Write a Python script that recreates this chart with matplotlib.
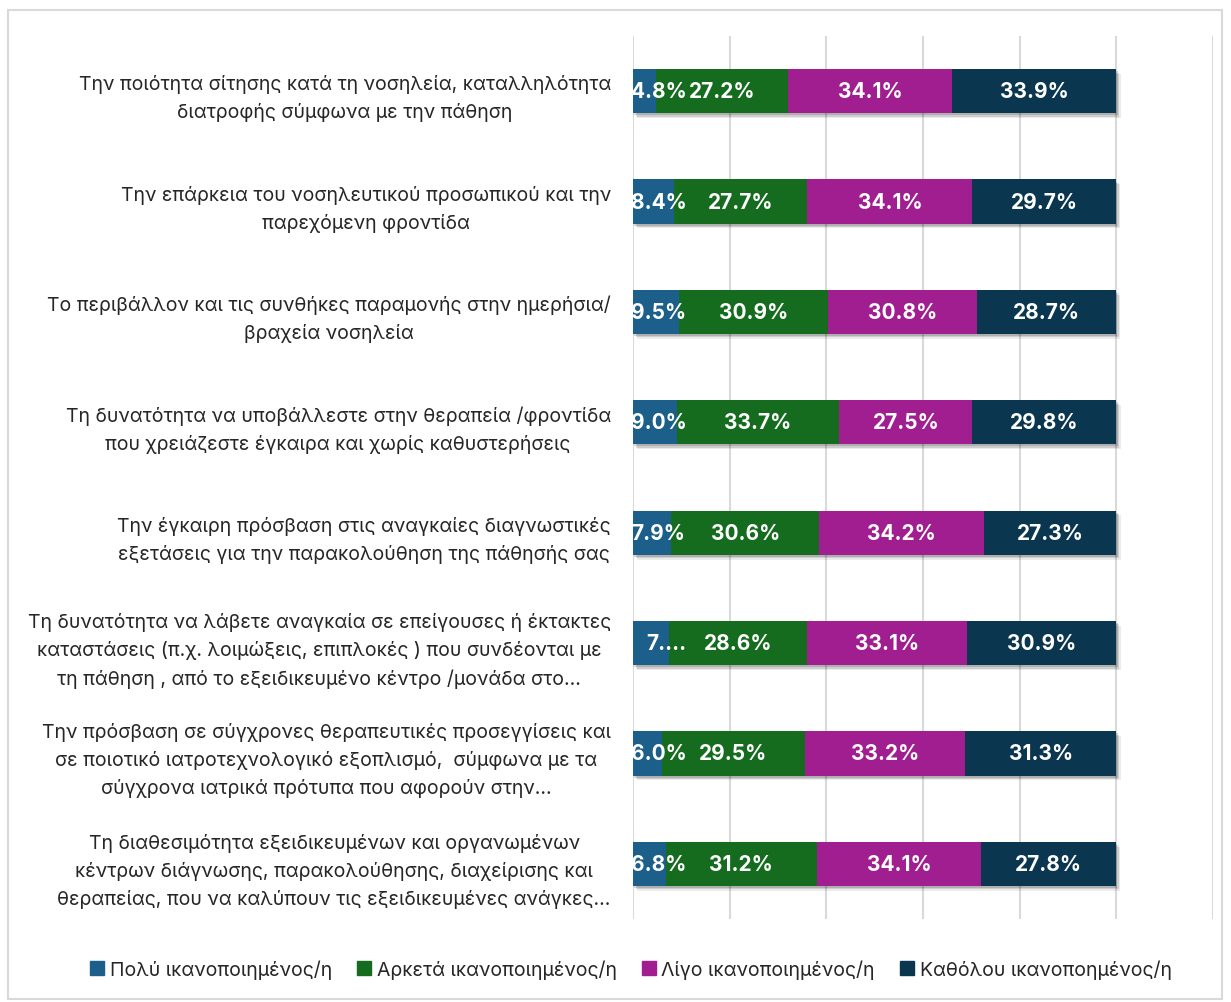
import matplotlib
matplotlib.use("Agg")
import matplotlib.pyplot as plt
import matplotlib.patheffects as pe
from matplotlib.patches import Rectangle
import numpy as np

plt.rcParams['font.family'] = ['Inter', 'DejaVu Sans']

categories = [
    "Την ποιότητα σίτησης κατά τη νοσηλεία, καταλληλότητα\nδιατροφής σύμφωνα με την πάθηση",
    "Την επάρκεια του νοσηλευτικού προσωπικού και την\nπαρεχόμενη φροντίδα",
    "Το περιβάλλον και τις συνθήκες παραμονής στην ημερήσια/\nβραχεία νοσηλεία",
    "Τη δυνατότητα να υποβάλλεστε στην θεραπεία /φροντίδα\nπου χρειάζεστε έγκαιρα και χωρίς καθυστερήσεις",
    "Την έγκαιρη πρόσβαση στις αναγκαίες διαγνωστικές\nεξετάσεις για την παρακολούθηση της πάθησής σας",
    "Τη δυνατότητα να λάβετε αναγκαία σε επείγουσες ή έκτακτες\nκαταστάσεις (π.χ. λοιμώξεις, επιπλοκές ) που συνδέονται με\nτη πάθηση , από το εξειδικευμένο κέντρο /μονάδα στο…",
    "Την πρόσβαση σε σύγχρονες θεραπευτικές προσεγγίσεις και\nσε ποιοτικό ιατροτεχνολογικό εξοπλισμό,  σύμφωνα με τα\nσύγχρονα ιατρικά πρότυπα που αφορούν στην…",
    "Τη διαθεσιμότητα εξειδικευμένων και οργανωμένων\nκέντρων διάγνωσης, παρακολούθησης, διαχείρισης και\nθεραπείας, που να καλύπουν τις εξειδικευμένες ανάγκες…",
]

series_names = ["Πολύ ικανοποιημένος/η", "Αρκετά ικανοποιημένος/η",
                "Λίγο ικανοποιημένος/η", "Καθόλου ικανοποημένος/η"]

poly    = [4.8, 8.4, 9.5, 9.0, 7.9, 7.4, 6.0, 6.8]
arketa  = [27.2, 27.7, 30.9, 33.7, 30.6, 28.6, 29.5, 31.2]
ligo    = [34.1, 34.1, 30.8, 27.5, 34.2, 33.1, 33.2, 34.1]
katholou = [33.9, 29.7, 28.7, 29.8, 27.3, 30.9, 31.3, 27.8]

colors = ["#1c5f8a", "#156c1e", "#a01e8f", "#0b3650"]

series = [poly, arketa, ligo, katholou]

fig = plt.figure(figsize=(12.31, 10.03), dpi=100)
ax = fig.add_axes([633/1231, (1003-920)/1003, (1213-633)/1231, (920-37)/1003])

y = np.arange(len(categories))
left = np.zeros(len(categories))
shadow = [pe.SimplePatchShadow(offset=(3, -3.5), shadow_rgbFace='black', alpha=0.08),
          pe.SimplePatchShadow(offset=(2, -2.5), shadow_rgbFace='black', alpha=0.12),
          pe.SimplePatchShadow(offset=(1, -1.5), shadow_rgbFace='black', alpha=0.15),
          pe.Normal()]
for si, (name, vals, col) in enumerate(zip(series_names, series, colors)):
    vals = np.array(vals)
    bars = ax.barh(y, vals, left=left, height=0.4, color=col, label=name, zorder=3)
    for b in bars:
        b.set_path_effects(shadow)
    for yi, (l, v) in enumerate(zip(left, vals)):
        txt = f"{v:.1f}%"
        if si == 0 and v < 10:
            if v == 7.4:
                txt = "7...."
                ax.text(l + 2.8, yi, txt, ha='left', va='center', color='white',
                        fontsize=15, fontweight='bold', zorder=5, clip_on=True)
            else:
                ax.text(l - 0.4, yi, txt, ha='left', va='center', color='white',
                        fontsize=15, fontweight='bold', zorder=5, clip_on=True)
        else:
            ax.text(l + v / 2, yi, txt, ha='center', va='center', color='white',
                    fontsize=15, fontweight='bold', zorder=5, clip_on=True)
    left = left + vals

ax.set_xlim(0, 120)
ax.set_ylim(len(categories) - 0.5, -0.5)
ax.set_xticks(np.arange(0, 121, 20))
ax.xaxis.grid(True, color='#d9d9d9', linewidth=1.5, zorder=0)
ax.set_axisbelow(True)
ax.tick_params(axis='x', length=0, labelbottom=False)
ax.tick_params(axis='y', length=0, pad=16)
ax.set_yticks(y)
ax.set_yticklabels(categories, fontsize=14, color='#262626', linespacing=1.6,
                   multialignment='center')
for s in ax.spines.values():
    s.set_visible(False)

handles = [Rectangle((0, 0), 1, 1, color=c) for c in colors]
fig.legend(handles, series_names, loc='center', bbox_to_anchor=(631/1231, 1 - 970/1003),
           ncol=4, frameon=False, fontsize=14, handlelength=0.7, handleheight=0.7,
           handletextpad=0.3, columnspacing=1.3, labelcolor='#262626')

fig.patches.append(Rectangle((8/1231, 3/1003), 1214/1231, 989/1003, transform=fig.transFigure,
                             fill=False, edgecolor='#d9d9d9', linewidth=1.5))

fig.savefig("out.png", dpi=100, facecolor='white')
